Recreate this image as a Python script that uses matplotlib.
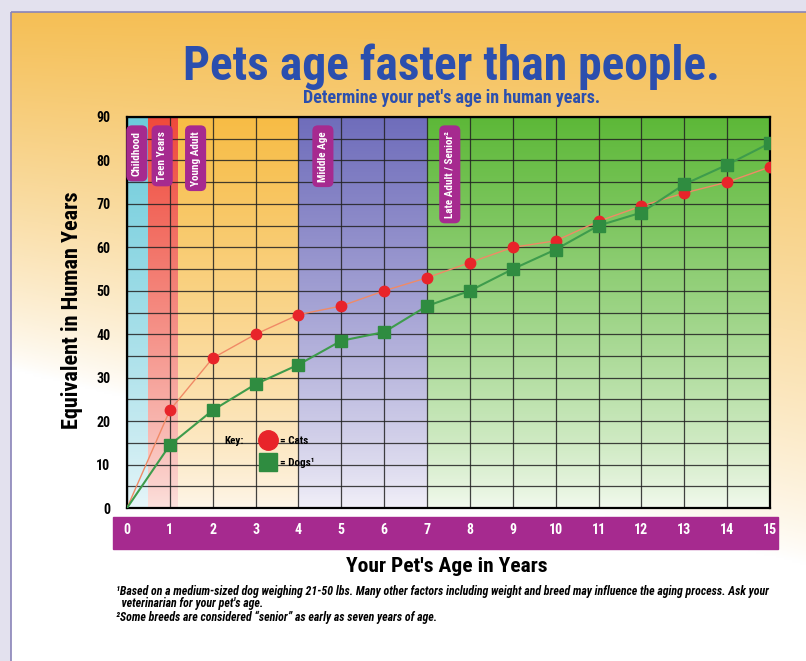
import numpy as np
import matplotlib
matplotlib.use('Agg')
import matplotlib.pyplot as plt
from matplotlib import font_manager as fm
from matplotlib.patches import Rectangle
from matplotlib.lines import Line2D
from matplotlib.colors import to_rgb


def _weight(w):
    if isinstance(w, (int, float)):
        return w
    return 700 if 'bold' in str(w).lower() or 'black' in str(w).lower() else 400


# the poster uses a condensed bold type; pick a narrow face that has a bold cut
_narrow = {}
for f in fm.fontManager.ttflist:
    if 'Narrow' in f.name or 'Condensed' in f.name:
        _narrow.setdefault(f.name, set()).add(_weight(f.weight))
_bold_narrow = sorted(n for n, ws in _narrow.items() if max(ws) >= 600)
_pref = ['Liberation Sans Narrow', 'DejaVu Sans Condensed', 'Roboto Condensed', 'Open Sans Condensed']
_pick = [n for n in _pref if n in _bold_narrow] or _bold_narrow[:1]
plt.rcParams['font.family'] = _pick[:1] + ['DejaVu Sans']
plt.rcParams['font.stretch'] = 'condensed'

# data
pet_age = [0, 1, 2, 3, 4, 5, 6, 7, 8, 9, 10, 11, 12, 13, 14, 15]
cat_years = [0, 22.5, 34.5, 40, 44.5, 46.5, 50, 53, 56.5, 60, 61.5, 66, 69.5, 72.5, 75, 78.5]
dog_years = [0, 14.5, 22.5, 28.5, 33, 38.5, 40.5, 46.5, 50, 55, 59.5, 65, 68, 74.5, 79, 84]

stage_names = ['Childhood', 'Teen Years', 'Young Adult', 'Middle Age', 'Late Adult / Senior²']
stage_label_x = [0.23, 0.82, 1.6, 4.57, 7.53]
band_edges = [0, 0.5, 1.2, 4, 7, 15]
band_top = ['#6ccbdb', '#ef4a3c', '#f7bc45', '#6f6dbb', '#5db838']
band_bottom = ['#e8f6f9', '#fce2de', '#fef6ea', '#f3f1f9', '#f3faef']

TITLE_BLUE = '#2b4fae'
PURPLE = '#a62a8f'


def gradient(top, bottom, n=200, power=0.8):
    t = np.linspace(0, 1, n) ** power  # 0 at bottom, 1 at top
    a, b = np.array(to_rgb(bottom)), np.array(to_rgb(top))
    g = a[None, :] * (1 - t[:, None]) + b[None, :] * t[:, None]
    return g[::-1][:, None, :]


def draw_backdrop(fig):
    bg = fig.add_axes([0, 0, 1, 1], zorder=-10)
    bg.axis('off')
    bg.add_patch(Rectangle((0, 0), 806, 661, color='#e3e1ee', zorder=-2))
    h, w = 300, 200
    t = np.linspace(0, 1, h)[:, None]
    s = np.linspace(0, 1, w)[None, :]
    k = np.clip(1 - t / (0.55 + 0.3 * s), 0, 1) ** 0.8
    orange = np.array(to_rgb('#f5bf55'))
    img = 1 - k[..., None] * (1 - orange)
    bg.imshow(img, extent=[11, 806, 661, 12], aspect='auto', zorder=-1)
    bg.add_patch(Rectangle((11, 12), 800, 660, fill=False, ec='#8a84b8', lw=1.2, zorder=0))
    bg.set_xlim(0, 806)
    bg.set_ylim(661, 0)


def fit(txt, renderer, width=None, height=None, max_size=None):
    # resize the text so it spans the same pixels as on the poster
    bb = txt.get_window_extent(renderer)
    scale = width / bb.width if width else height / bb.height
    size = txt.get_fontsize() * scale
    if max_size:
        size = min(size, max_size)
    txt.set_fontsize(size)


def main():
    fig = plt.figure(figsize=(8.06, 6.61), dpi=100)
    renderer = fig.canvas.get_renderer()
    draw_backdrop(fig)

    # purple tick band
    fig.add_artist(Rectangle((113 / 806, 1 - 549 / 661), 665 / 806, 32 / 661,
                             transform=fig.transFigure, color=PURPLE, zorder=-5))

    ax = fig.add_axes([127 / 806, 1 - 508 / 661, 643 / 806, 391 / 661])

    for x0, x1, c_top, c_bot in zip(band_edges[:-1], band_edges[1:], band_top, band_bottom):
        ax.imshow(gradient(c_top, c_bot), extent=[x0, x1, 0, 90], aspect='auto', zorder=0)

    ax.set_xlim(0, 15)
    ax.set_ylim(0, 90)

    ax.set_xticks(pet_age)
    ax.set_yticks(range(0, 91, 10))
    ax.set_yticks(range(5, 90, 10), minor=True)
    ax.grid(True, which='both', color='#222222', lw=0.9, alpha=0.85, zorder=1)
    ax.set_axisbelow(False)
    ax.tick_params(axis='x', length=0, pad=11, labelcolor='white', labelsize=10)
    ax.tick_params(axis='y', which='both', length=0, pad=12, labelsize=10)
    for lab in ax.get_xticklabels() + ax.get_yticklabels():
        lab.set_fontweight('bold')
    for sp in ax.spines.values():
        sp.set_linewidth(1.6)
        sp.set_zorder(3)

    # life stage tags, sized so the longest one reaches down as on the poster
    tags = []
    for name, x in zip(stage_names, stage_label_x):
        tags.append(ax.text(x, 86.8, name, rotation=90, ha='center', va='top', color='white',
                            fontsize=6.5, fontweight='bold', zorder=4,
                            bbox=dict(boxstyle='round,pad=0.5', fc=PURPLE, ec='none')))
    fit(tags[-1], renderer, height=98, max_size=8)
    for t in tags[:-1]:
        t.set_fontsize(tags[-1].get_fontsize())

    ax.plot(pet_age, cat_years, color='#f08a66', lw=1.0, zorder=5)
    ax.plot(pet_age, dog_years, color='#3e9c4c', lw=1.5, zorder=5)
    ax.plot(pet_age[1:], cat_years[1:], 'o', color='#e8242a', ms=7.5, zorder=6)
    ax.plot(pet_age[1:], dog_years[1:], 's', color='#2f8c40', ms=8.5, zorder=6)

    handles = [Line2D([], [], ls='none', marker='o', color='#e8242a', ms=14),
               Line2D([], [], ls='none', marker='s', color='#2f8c40', ms=13)]
    ax.legend(handles, ['= Cats', '= Dogs¹'], loc='upper left', bbox_to_anchor=(0.2, 0.198),
              frameon=False, handlelength=1.2, handletextpad=0.5, labelspacing=1.0,
              borderpad=0, prop={'weight': 'bold', 'size': 8})
    ax.text(2.5, 15.4, 'Key:', ha='center', va='center', fontsize=8, fontweight='bold', zorder=7)

    title = fig.text(0.56, 1 - 80 / 661, 'Pets age faster than people.', ha='center',
                     va='baseline', color=TITLE_BLUE, fontsize=40, fontweight='bold')
    fit(title, renderer, width=537, max_size=42)
    sub = fig.text(0.56, 1 - 103 / 661, "Determine your pet's age in human years.", ha='center',
                   va='baseline', color=TITLE_BLUE, fontsize=12, fontweight='bold')
    fit(sub, renderer, width=332, max_size=13)
    ylab = fig.text(72 / 806, 1 - 310 / 661, 'Equivalent in Human Years', rotation=90,
                    ha='center', va='center', fontsize=14, fontweight='bold')
    fit(ylab, renderer, height=260, max_size=16)
    xlab = fig.text(447 / 806, 1 - 566 / 661, "Your Pet's Age in Years", ha='center',
                    va='center', fontsize=14, fontweight='bold')
    fit(xlab, renderer, width=202, max_size=16)

    notes = ["¹Based on a medium-sized dog weighing 21-50 lbs. Many other factors including weight "
             "and breed may influence the aging process. Ask your",
             "  veterinarian for your pet's age.",
             "²Some breeds are considered \u201csenior\u201d as early as seven years of age."]
    note_texts = []
    for line, y in zip(notes, [591, 603, 617]):
        note_texts.append(fig.text(116 / 806, 1 - y / 661, line, ha='left', va='center',
                                   fontsize=6, fontweight='bold', style='italic'))
    fit(note_texts[0], renderer, width=674, max_size=8.6)
    for t in note_texts[1:]:
        t.set_fontsize(note_texts[0].get_fontsize())

    fig.savefig('out.png', dpi=100)


if __name__ == '__main__':
    main()
